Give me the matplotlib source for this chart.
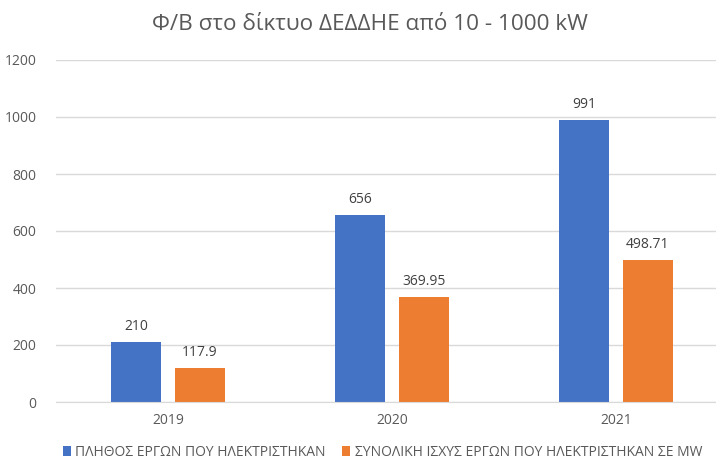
import matplotlib
matplotlib.use('Agg')
import matplotlib.pyplot as plt
import numpy as np

plt.rcParams['font.family'] = ['Open Sans', 'DejaVu Sans']

years = ['2019', '2020', '2021']
projects = [210, 656, 991]
power_mw = [117.9, 369.95, 498.71]
power_labels = ['117.9', '369.95', '498.71']
series_names = ['ΠΛΗΘΟΣ ΕΡΓΩΝ ΠΟΥ ΗΛΕΚΤΡΙΣΤΗΚΑΝ',
                'ΣΥΝΟΛΙΚΗ ΙΣΧΥΣ ΕΡΓΩΝ ΠΟΥ ΗΛΕΚΤΡΙΣΤΗΚΑΝ ΣΕ MW']
yticks = [0, 200, 400, 600, 800, 1000, 1200]

BLUE = '#4472C4'
ORANGE = '#ED7D31'
GREY = '#595959'

fig = plt.figure(figsize=(7.16, 4.62), dpi=100)
ax = fig.add_axes([56 / 716, 60 / 462, 660 / 716, 342 / 462])

x = np.arange(len(years))
width = 0.223
off = 0.142

b1 = ax.bar(x - off, projects, width, color=BLUE, label=series_names[0])
b2 = ax.bar(x + off, power_mw, width, color=ORANGE, label=series_names[1])

# value labels above bars
for bar, v in zip(b1, projects):
    ax.text(bar.get_x() + bar.get_width() / 2, v + 28, str(v),
            ha='center', va='bottom', fontsize=10, color='#404040')
for bar, v, s in zip(b2, power_mw, power_labels):
    ax.text(bar.get_x() + bar.get_width() / 2, v + 28, s,
            ha='center', va='bottom', fontsize=10, color='#404040')

ax.set_xlim(-0.5, 2.5 - 12 / 224)
ax.set_ylim(0, 1200)
ax.set_yticks(yticks)
ax.set_xticks(x)
ax.set_xticklabels(years)
ax.tick_params(length=0, labelsize=10, colors=GREY)
ax.tick_params(axis='x', pad=8)
ax.tick_params(axis='y', pad=14)
ax.grid(True, axis='y', color='#D9D9D9', linewidth=1)
ax.set_axisbelow(True)
for side in ['top', 'right', 'left']:
    ax.spines[side].set_visible(False)
ax.spines['bottom'].set_color('#D9D9D9')

fig.text(370 / 716, 1 - 24 / 462, 'Φ/Β στο δίκτυο ΔΕΔΔΗΕ από 10 - 1000 kW',
         ha='center', va='center', fontsize=16.2, color=GREY)

fig.legend(handles=[b1, b2], loc='center left', bbox_to_anchor=(50 / 716, 1 - 452 / 462),
           ncol=2, frameon=False, fontsize=10, labelcolor=GREY,
           handlelength=0.6, handleheight=0.7, handletextpad=0.3, columnspacing=1.2)

fig.savefig('out.png', dpi=100)
